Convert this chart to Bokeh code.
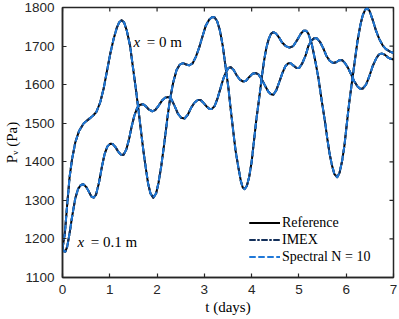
from bokeh.plotting import figure
from bokeh.models import (Legend, LegendItem, Label, FixedTicker,
                          Range1d, ColumnDataSource)
from bokeh.embed import file_html
from bokeh.resources import INLINE

# ---- data ----
x_ticks = [0, 1, 2, 3, 4, 5, 6, 7]
y_ticks = [1100, 1200, 1300, 1400, 1500, 1600, 1700, 1800]

# x = 0 m
t_x0 = [0.00, 0.05, 0.10, 0.15, 0.20, 0.27, 0.35, 0.45, 0.55, 0.65, 0.72, 0.80,
        0.87, 0.94, 1.01, 1.08, 1.15, 1.20, 1.25, 1.30, 1.36, 1.43, 1.49, 1.55,
        1.60, 1.66, 1.71, 1.76, 1.81, 1.86, 1.92, 1.98, 2.03, 2.09, 2.16, 2.22,
        2.27, 2.34, 2.41, 2.48, 2.55, 2.62, 2.68, 2.75, 2.82, 2.89, 2.96, 3.03,
        3.10, 3.16, 3.21, 3.27, 3.33, 3.39, 3.45, 3.51, 3.56, 3.61, 3.66, 3.72,
        3.77, 3.81, 3.85, 3.90, 3.95, 4.00, 4.05, 4.10, 4.16, 4.21, 4.26, 4.31,
        4.36, 4.41, 4.46, 4.52, 4.58, 4.64, 4.72, 4.80, 4.88, 4.96, 5.04, 5.10,
        5.15, 5.20, 5.27, 5.34, 5.41, 5.48, 5.55, 5.60, 5.65, 5.70, 5.75, 5.81,
        5.86, 5.91, 5.96, 6.01, 6.06, 6.12, 6.18, 6.24, 6.30, 6.35, 6.40, 6.44,
        6.49, 6.56, 6.63, 6.70, 6.77, 6.84, 6.92, 7.00]
p_x0 = [1175, 1215, 1290, 1360, 1405, 1450, 1480, 1500, 1510, 1520, 1530, 1555,
        1590, 1635, 1680, 1718, 1748, 1762, 1767, 1762, 1740, 1700, 1645, 1590,
        1541, 1480, 1429, 1385, 1344, 1318, 1307, 1318, 1345, 1390, 1455, 1515,
        1559, 1605, 1637, 1652, 1656, 1652, 1650, 1655, 1672, 1696, 1725, 1753,
        1768, 1775, 1775, 1765, 1740, 1700, 1645, 1590, 1533, 1480, 1429, 1385,
        1351, 1334, 1329, 1338, 1362, 1400, 1455, 1510, 1565, 1615, 1660, 1695,
        1718, 1732, 1736, 1732, 1722, 1710, 1700, 1696, 1700, 1715, 1732, 1740,
        1740, 1732, 1706, 1665, 1619, 1560, 1505, 1460, 1420, 1390, 1368, 1360,
        1372, 1400, 1440, 1495, 1550, 1605, 1660, 1714, 1755, 1780, 1794, 1798,
        1792, 1768, 1740, 1718, 1702, 1692, 1686, 1682]

# x = 0.1 m
t_x01 = [0.00, 0.03, 0.06, 0.10, 0.15, 0.20, 0.27, 0.33, 0.39, 0.44, 0.50, 0.56,
         0.61, 0.66, 0.71, 0.77, 0.83, 0.89, 0.95, 1.01, 1.06, 1.12, 1.18, 1.24,
         1.29, 1.35, 1.41, 1.46, 1.52, 1.58, 1.64, 1.71, 1.77, 1.83, 1.90, 1.96,
         2.03, 2.10, 2.17, 2.24, 2.30, 2.37, 2.44, 2.51, 2.58, 2.65, 2.72, 2.79,
         2.86, 2.92, 2.98, 3.05, 3.11, 3.16, 3.22, 3.28, 3.34, 3.40, 3.46, 3.51,
         3.56, 3.62, 3.68, 3.75, 3.82, 3.88, 3.95, 4.02, 4.09, 4.15, 4.22, 4.29,
         4.35, 4.41, 4.46, 4.52, 4.58, 4.65, 4.71, 4.77, 4.82, 4.88, 4.95, 5.01,
         5.07, 5.14, 5.20, 5.26, 5.32, 5.38, 5.45, 5.52, 5.58, 5.65, 5.72, 5.79,
         5.86, 5.92, 5.98, 6.04, 6.11, 6.17, 6.24, 6.30, 6.35, 6.42, 6.49, 6.56,
         6.63, 6.69, 6.75, 6.81, 6.88, 6.94, 7.00]
p_x01 = [1175, 1168, 1167, 1180, 1215, 1255, 1305, 1330, 1340, 1342, 1335, 1322,
         1310, 1307, 1315, 1345, 1385, 1420, 1440, 1447, 1446, 1438, 1426, 1418,
         1418, 1432, 1460, 1490, 1520, 1540, 1548, 1549, 1543, 1535, 1531, 1534,
         1545, 1558, 1566, 1568, 1563, 1545, 1525, 1514, 1512, 1522, 1540, 1553,
         1560, 1560, 1553, 1543, 1537, 1537, 1545, 1565, 1590, 1615, 1633, 1643,
         1645, 1638, 1625, 1613, 1608, 1610, 1620, 1628, 1630, 1626, 1612, 1596,
         1582, 1575, 1574, 1585, 1605, 1630, 1647, 1655, 1656, 1650, 1643, 1644,
         1655, 1675, 1700, 1714, 1720, 1720, 1710, 1693, 1675, 1662, 1656, 1658,
         1664, 1663, 1655, 1643, 1625, 1609, 1595, 1589, 1590, 1600, 1622, 1648,
         1667, 1678, 1681, 1678, 1671, 1667, 1665]

method_names = ["Reference", "IMEX", "Spectral N = 10"]
x_title = "t (days)"
y_title = "P\u1d65 (Pa)"

# ---- styling ----
AX = "#262626"
SERIF = "Liberation Serif"
SANS = "Liberation Sans"
styles = [
    dict(line_color="black", line_width=2.0, line_dash="solid"),
    dict(line_color="#14305a", line_width=2.0, line_dash="6 2 2 2"),
    dict(line_color="#1f78d8", line_width=2.0, line_dash="6 3"),
]

X0, X1, Y0, Y1 = 0, 7, 1100, 1800
p = figure(width=399, height=319, x_range=Range1d(X0, X1), y_range=Range1d(Y0, Y1),
           output_backend="svg", toolbar_location=None,
           min_border_left=62, min_border_right=6, min_border_top=7, min_border_bottom=42)
p.xgrid.visible = False
p.ygrid.visible = False
p.outline_line_color = AX
p.outline_line_width = 1.5
p.background_fill_color = "white"
p.border_fill_color = "white"

for ax, ticks in ((p.xaxis[0], x_ticks), (p.yaxis[0], y_ticks)):
    ax.ticker = FixedTicker(ticks=ticks)
    ax.major_tick_in = 4
    ax.major_tick_out = 0
    ax.minor_tick_in = 0
    ax.minor_tick_out = 0
    ax.major_tick_line_color = AX
    ax.major_tick_line_width = 1.2
    ax.axis_line_color = AX
    ax.axis_line_width = 1.5
    ax.major_label_text_font = SANS
    ax.major_label_text_color = AX
    ax.major_label_text_font_size = "13.5px"
    ax.axis_label_text_font = SERIF
    ax.axis_label_text_font_style = "normal"
    ax.axis_label_text_font_size = "15px"
    ax.axis_label_text_color = "black"
p.xaxis[0].major_label_standoff = 7
p.yaxis[0].major_label_standoff = 8
p.xaxis[0].axis_label = x_title
p.yaxis[0].axis_label = y_title
p.xaxis[0].axis_label_standoff = 2
p.yaxis[0].axis_label_standoff = 1

# inward ticks on the top and right edges (mirroring the bottom/left ticks)
tick_px = 4.0
frame_w, frame_h = 331.0, 270.0
dy = tick_px * (Y1 - Y0) / frame_h
dx = tick_px * (X1 - X0) / frame_w
p.segment(x0=x_ticks, y0=[Y1] * len(x_ticks), x1=x_ticks, y1=[Y1 - dy] * len(x_ticks),
          line_color=AX, line_width=1.2)
p.segment(x0=[X1] * len(y_ticks), y0=y_ticks, x1=[X1 - dx] * len(y_ticks), y1=y_ticks,
          line_color=AX, line_width=1.2)

# ---- curves ----
src0 = ColumnDataSource(dict(t=t_x0, P=p_x0))
src1 = ColumnDataSource(dict(t=t_x01, P=p_x01))
renderers = []
for st in styles:
    r0 = p.line("t", "P", source=src0, line_join="round", **st)
    r1 = p.line("t", "P", source=src1, line_join="round", **st)
    renderers.append((r0, r1))

items = [LegendItem(label=name, renderers=list(rs)) for name, rs in zip(method_names, renderers)]
legend = Legend(items=items, location=(187, 12), border_line_color=None,
                background_fill_alpha=0, padding=0, margin=0, spacing=0,
                label_height=17, glyph_height=17, glyph_width=31, label_standoff=2,
                label_text_font=SERIF, label_text_font_size="14px",
                label_text_color="black")
p.add_layout(legend, "center")

# ---- in-plot annotations ----
def lab(x, y, text, style="normal", size="15px"):
    p.add_layout(Label(x=x, y=y, text=text, text_font=SERIF, text_font_style=style,
                       text_font_size=size, text_color="black",
                       text_align="left", text_baseline="alphabetic"))

lab(1.50, 1710, "x", "italic")
lab(1.78, 1710, "= 0 m")
lab(0.317, 1191, "x", "italic")
lab(0.60, 1191, "= 0.1 m")

open("out.html", "w").write(file_html(p, INLINE))
